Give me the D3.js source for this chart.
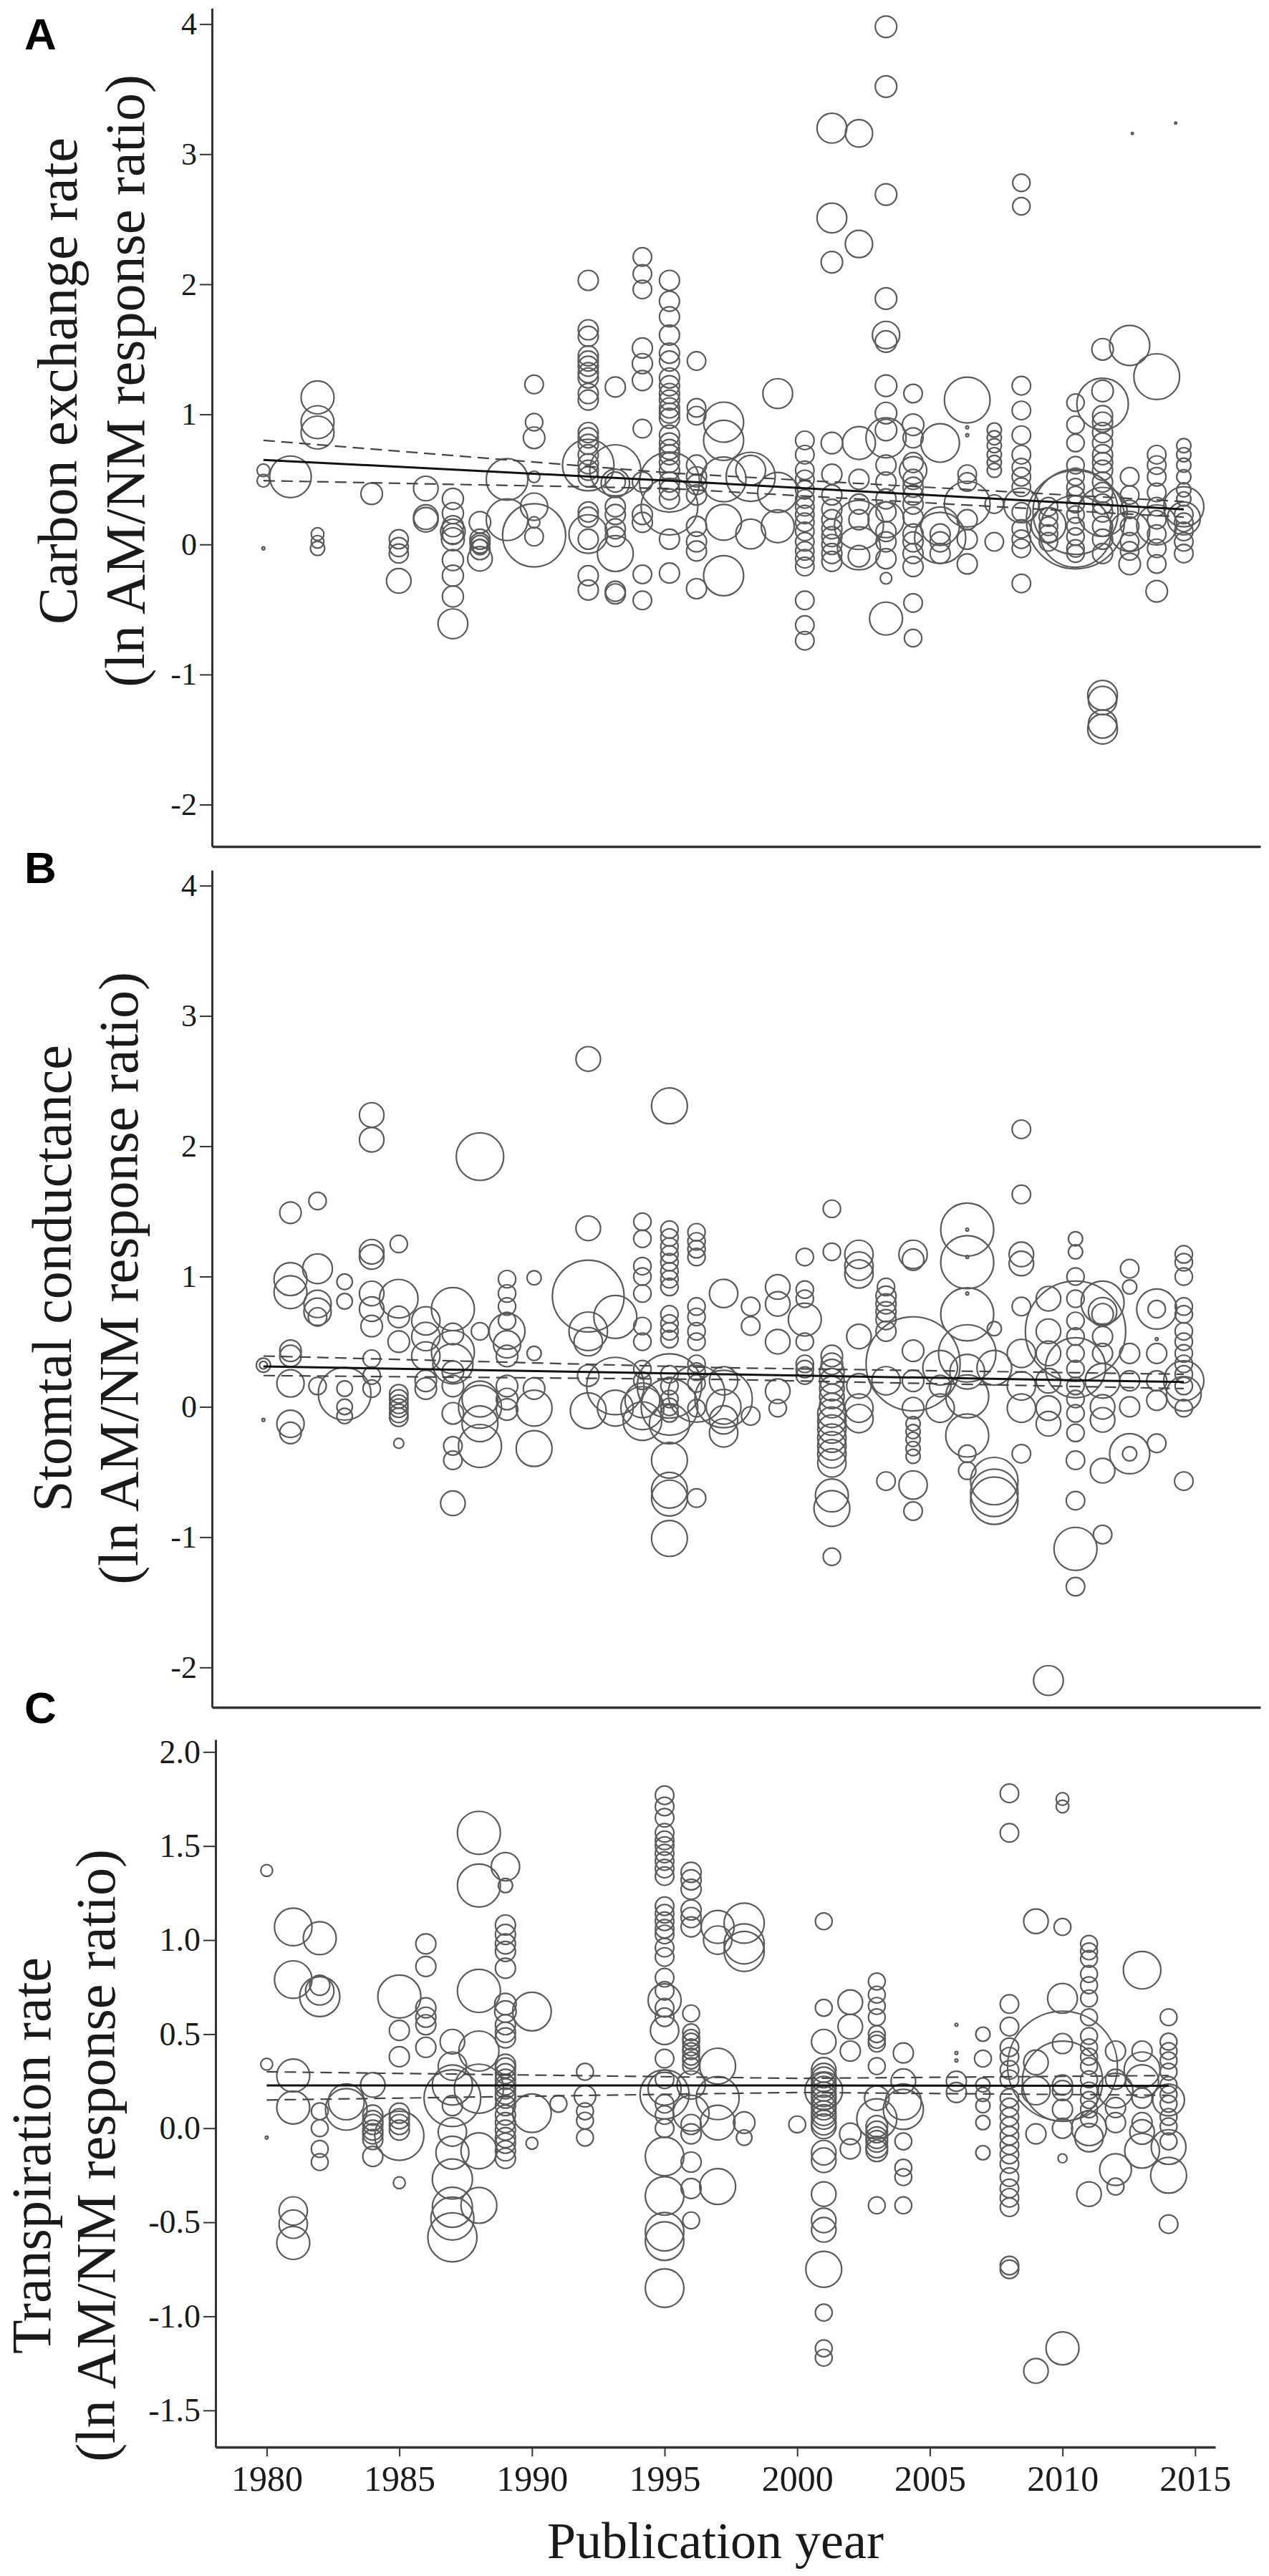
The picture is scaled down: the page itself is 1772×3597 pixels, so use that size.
<!DOCTYPE html>
<html>
<head>
<meta charset="utf-8">
<script src="https://cdn.jsdelivr.net/npm/d3@7"></script>
<style>
  body { margin: 0; background: #fff; }
  svg text { font-family: "Liberation Serif", "Times New Roman", serif; fill: #1a1a1a; }
  svg text.panel-label { font-family: "Liberation Sans", Arial, sans-serif; font-weight: bold; fill: #000; }
</style>
</head>
<body>
<div id="canvas"></div>
<script>
// ---- data: [publication year, ln response ratio, relative weight] ----
var carbonPts = [
  [1980,0.57,0.4],[1980,0.49,0.4],[1980,-0.03,0.02],
  [1981,0.52,4.3],
  [1982,1.13,2.7],[1982,0.94,2.7],[1982,0.86,2.7],[1982,0.08,0.4],[1982,0.02,0.4],[1982,-0.03,0.5],
  [1984,0.39,1.15],
  [1985,0.04,0.9],[1985,-0.02,0.9],[1985,-0.07,0.9],[1985,-0.28,1.5],
  [1986,0.43,1.5],[1986,0.21,1.5],[1986,0.19,1.5],
  [1987,0.35,1.1],[1987,0.24,1.1],[1987,0.14,1.1],[1987,0.08,1.1],[1987,0.04,1.3],[1987,0.1,1.5],[1987,-0.12,1.1],[1987,-0.24,1.1],[1987,-0.40,1.1],[1987,-0.61,2.2],
  [1988,0.17,1.15],[1988,0.04,1],[1988,0.01,1],[1988,0,0.8],[1988,-0.02,0.6],[1988,-0.04,1],[1988,-0.11,1.5],
  [1989,0.50,4.3],[1989,0.19,4.3],
  [1990,1.23,0.85],[1990,0.94,0.75],[1990,0.82,1.15],[1990,0.52,0.33],[1990,0.29,1.85],[1990,0.17,0.33],[1990,0.07,9.9],[1990,0.06,0.85],
  [1992,2.03,1],[1992,1.65,1],[1992,1.60,1],[1992,1.45,1],[1992,1.41,1],[1992,1.37,1],[1992,1.32,1],[1992,1.28,1],[1992,1.16,1],[1992,1.11,1],[1992,0.86,1],[1992,0.82,1],[1992,0.77,1],[1992,0.69,1],[1992,0.62,1],[1992,0.57,1],[1992,0.52,1],[1992,0.25,1],[1992,0.21,1],[1992,0.04,1],[1992,-0.24,1],[1992,-0.35,1],[1992,0.61,6.6],[1992,0.08,3.7],
  [1993,1.21,1],[1993,0.57,6.5],[1993,0.48,1],[1993,0.29,1],[1993,0.23,1],[1993,0.12,1],[1993,0.06,1],[1993,-0.07,3.2],[1993,-0.36,1],[1993,-0.38,1],[1993,0.47,2],
  [1994,2.21,0.85],[1994,2.08,0.85],[1994,1.96,0.85],[1994,1.51,1],[1994,1.39,1],[1994,1.26,1],[1994,0.89,0.85],[1994,0.48,1],[1994,0.23,1],[1994,0.17,1],[1994,-0.23,0.85],[1994,-0.43,0.85],
  [1995,2.03,1],[1995,1.87,1],[1995,1.75,1],[1995,1.61,1],[1995,1.47,1],[1995,1.41,1],[1995,1.28,1],[1995,1.22,1],[1995,1.16,1],[1995,1.11,1],[1995,1.05,1],[1995,1.01,1],[1995,0.97,1],[1995,0.84,1],[1995,0.78,1],[1995,0.73,1],[1995,0.69,1],[1995,0.63,1],[1995,0.57,1],[1995,0.48,1],[1995,0.42,1],[1995,0.35,1],[1995,0.04,1],[1995,-0.22,1],[1995,0.48,9],[1995,0.29,8],
  [1996,1.41,0.85],[1996,1.05,0.85],[1996,0.99,0.85],[1996,0.61,1],[1996,0.52,1],[1996,0.46,1],[1996,0.38,1],[1996,0.14,1],[1996,0.02,1],[1996,-0.05,1],[1996,-0.34,1],
  [1997,0.94,4],[1997,0.80,4],[1997,0.17,3.2],[1997,-0.24,4],[1997,0.5,5],
  [1998,0.57,2.2],[1998,0.52,6],[1998,0.08,2.2],
  [1999,1.16,2.2],[1999,0.14,2.7],[1999,0.40,4],
  [2000,0.80,0.85],[2000,0.69,0.85],[2000,0.57,0.85],[2000,0.50,0.85],[2000,0.42,0.85],[2000,0.35,0.85],[2000,0.29,0.85],[2000,0.23,0.85],[2000,0.17,0.85],[2000,0.10,0.85],[2000,0.02,0.85],[2000,-0.05,0.85],[2000,-0.11,0.85],[2000,-0.17,0.85],[2000,-0.43,0.85],[2000,-0.62,0.85],[2000,-0.74,0.85],
  [2001,3.20,2.2],[2001,2.51,2.2],[2001,2.17,1.15],[2001,0.78,1.15],[2001,0.54,1],[2001,0.38,1],[2001,0.27,1],[2001,0.19,1],[2001,0.12,1],[2001,0.06,1],[2001,0,1],[2001,-0.07,1],[2001,-0.13,1],
  [2002,3.16,1.85],[2002,2.31,1.85],[2002,0.78,2.7],[2002,0.50,1],[2002,0.31,1],[2002,0.19,1],[2002,-0.03,4.6],[2002,-0.09,1.15],[2002,0.15,6],
  [2003,3.98,1.15],[2003,3.52,1.15],[2003,2.69,1.15],[2003,1.89,1.15],[2003,1.61,1.85],[2003,1.56,1.15],[2003,1.22,1.15],[2003,1.01,1.15],[2003,0.88,1.15],[2003,0.82,4],[2003,0.61,1],[2003,0.48,1],[2003,0.35,1],[2003,0.25,1],[2003,0.19,3.2],[2003,0.10,1],[2003,0.02,1],[2003,-0.11,1],[2003,-0.26,0.33],[2003,-0.57,2.7],
  [2004,1.16,0.85],[2004,0.92,1.15],[2004,0.82,1],[2004,0.63,1],[2004,0.57,1.85],[2004,0.50,1],[2004,0.44,1],[2004,0.38,1],[2004,0.31,1],[2004,0.21,1],[2004,0.08,1],[2004,0.02,1],[2004,-0.07,1],[2004,-0.17,1],[2004,-0.45,0.85],[2004,-0.72,0.75],
  [2005,0.78,3.7],[2005,0.14,3.7],[2005,0.08,1],[2005,0.02,1],[2005,-0.07,1],[2005,0.05,6.5],
  [2006,1.11,5.2],[2006,0.90,0.02],[2006,0.84,0.02],[2006,0.54,0.85],[2006,0.48,0.85],[2006,0.31,5.2],[2006,0.19,1],[2006,0.04,1],[2006,-0.15,1],
  [2007,0.88,0.5],[2007,0.82,0.5],[2007,0.76,0.5],[2007,0.69,0.5],[2007,0.63,0.5],[2007,0.57,0.5],[2007,0.31,0.85],[2007,0.02,0.85],
  [2008,2.78,0.75],[2008,2.60,0.75],[2008,1.22,0.85],[2008,1.03,0.85],[2008,0.84,0.85],[2008,0.69,0.85],[2008,0.59,0.85],[2008,0.52,0.85],[2008,0.44,0.85],[2008,0.25,0.85],[2008,0.12,0.85],[2008,0.04,0.85],[2008,-0.03,0.85],[2008,-0.30,0.85],[2008,0.3,3],
  [2009,0.29,0.85],[2009,0.21,0.85],[2009,0.14,0.85],[2009,0.08,0.85],[2009,0.02,0.85],[2009,0.15,3],
  [2010,1.09,0.75],[2010,0.92,0.75],[2010,0.78,0.75],[2010,0.61,0.75],[2010,0.52,0.75],[2010,0.44,0.75],[2010,0.38,0.75],[2010,0.31,0.75],[2010,0.23,0.75],[2010,0.14,0.75],[2010,0.06,0.75],[2010,-0.03,0.75],[2010,-0.07,0.75],[2010,0.19,24],[2010,0.25,18],[2010,0.10,12.8],
  [2011,1.50,1.15],[2011,1.18,1.15],[2011,1.08,6.6],[2011,0.99,1],[2011,0.94,1],[2011,0.86,1],[2011,0.78,1],[2011,0.69,1],[2011,0.63,1],[2011,0.57,1],[2011,0.48,1],[2011,0.40,1],[2011,0.31,1],[2011,0.25,1],[2011,0.14,1],[2011,0.04,1],[2011,-0.07,1],[2011,-1.16,2.2],[2011,-1.20,2],[2011,-1.42,2.2],[2011,-1.38,2],[2011,0.25,6],
  [2012,1.53,4],[2012,0.52,0.85],[2012,0.38,0.85],[2012,0.27,0.85],[2012,0.14,0.85],[2012,0.02,0.85],[2012,-0.05,0.85],[2012,-0.15,1.15],[2012,0.1,4],[2012.1,3.16,0.01],
  [2013,1.29,5.2],[2013,0.69,0.85],[2013,0.61,0.85],[2013,0.52,0.85],[2013,0.40,0.85],[2013,0.29,0.85],[2013,0.19,0.85],[2013,0.08,0.85],[2013,-0.03,0.85],[2013,-0.15,0.85],[2013,-0.36,1.15],[2013,0.15,4],[2013.7,3.24,0.01],
  [2014,0.76,0.5],[2014,0.69,0.5],[2014,0.61,0.5],[2014,0.52,0.5],[2014,0.42,0.5],[2014,0.35,0.5],[2014,0.29,4],[2014,0.23,0.85],[2014,0.17,0.85],[2014,0.10,0.85],[2014,0.02,0.85],[2014,-0.07,0.85],[2014,0.2,2.7]
];

var stomatalPts = [
  [1980,0.32,0.5],[1980,0.32,0.15],[1980,-0.1,0.02],
  [1981,1.49,1.15],[1981,0.98,2.7],[1981,0.88,2.7],[1981,0.43,1.15],[1981,0.39,1.15],[1981,0.18,1.85],[1981,-0.13,1.85],[1981,-0.20,1.15],
  [1982,1.58,0.75],[1982,1.06,2.2],[1982,0.79,1.85],[1982,0.73,1.85],[1982,0.69,0.85],[1982,0.16,0.75],
  [1983,0.96,0.6],[1983,0.81,0.6],[1983,0.14,0.6],[1983,0,0.6],[1983,-0.07,0.6],[1983,0.10,6.9],
  [1984,2.24,1.5],[1984,2.05,1.5],[1984,1.19,1.5],[1984,1.15,1.5],[1984,0.87,1.5],[1984,0.75,1.5],[1984,0.62,1.15],[1984,0.37,0.75],[1984,0.24,0.75],[1984,0.14,0.75],
  [1985,1.25,0.75],[1985,0.83,3.7],[1985,0.69,1.15],[1985,0.50,1.15],[1985,0.10,0.85],[1985,0.06,0.85],[1985,0.02,0.85],[1985,-0.01,0.85],[1985,-0.05,0.85],[1985,-0.08,0.85],[1985,-0.28,0.25],
  [1986,0.66,2],[1986,0.54,2],[1986,0.39,2],[1986,0.14,1.15],[1986,0.20,1.15],
  [1987,0.75,4.6],[1987,0.56,1.15],[1987,0.33,4],[1987,0.27,1.15],[1987,0.16,1.15],[1987,-0.05,1.15],[1987,-0.30,0.85],[1987,-0.41,0.85],[1987,-0.74,1.5],[1987,0.42,4.6],
  [1988,1.92,5.6],[1988,0.58,0.75],[1988,0.06,3.2],[1988,0,4.6],[1988,-0.13,3.2],[1988,-0.30,4.6],
  [1989,0.98,0.75],[1989,0.87,0.75],[1989,0.77,0.75],[1989,0.66,0.75],[1989,0.48,1.85],[1989,0.39,1.15],[1989,0.16,1.15],[1989,0.06,1.15],[1989,-0.02,1.15],[1989,0.58,3.2],
  [1990,0.99,0.5],[1990,0.41,0.5],[1990,0.14,1.15],[1990,-0.01,3.2],[1990,-0.32,3.2],
  [1992,2.67,1.5],[1992,1.37,1.5],[1992,0.85,12.8],[1992,0.58,3.7],[1992,0.50,2],[1992,0.24,1.15],[1992,-0.03,3.2],
  [1993,0.69,4.6],[1993,0.16,8.2],[1993,-0.01,3.2],
  [1994,1.42,0.75],[1994,1.29,0.75],[1994,1.08,0.75],[1994,1.0,0.75],[1994,0.87,0.75],[1994,0.62,0.75],[1994,0.50,0.75],[1994,0.29,0.75],[1994,0.20,0.75],[1994,-0.01,4.6],[1994,-0.11,3.7],[1994,0.05,3],
  [1995,2.31,3.2],[1995,1.36,0.75],[1995,1.30,0.75],[1995,1.23,0.75],[1995,1.17,0.75],[1995,1.11,0.75],[1995,1.04,0.75],[1995,0.98,0.75],[1995,0.92,0.75],[1995,0.71,0.75],[1995,0.64,0.75],[1995,0.58,0.75],[1995,0.52,0.75],[1995,0.25,0.75],[1995,0.16,0.75],[1995,0.06,0.75],[1995,0,0.75],[1995,-0.05,0.75],[1995,-0.13,4],[1995,-0.41,3.2],[1995,-0.64,3.2],[1995,-0.70,3.2],[1995,-1.01,3.2],[1995,0.16,10.3],[1995,0,8],
  [1996,1.34,0.75],[1996,1.27,0.75],[1996,1.21,0.75],[1996,1.15,0.75],[1996,0.77,0.75],[1996,0.69,0.75],[1996,0.58,0.75],[1996,0.50,0.75],[1996,0.33,0.75],[1996,0.27,0.75],[1996,0.18,0.75],[1996,-0.01,0.75],[1996,-0.70,0.85],[1996,0.1,8],
  [1997,0.87,2],[1997,0.06,8.2],[1997,0.2,2],[1997,-0.1,2],[1997,-0.2,2],[1997,0,3],
  [1998,0.77,0.85],[1998,0.62,0.85],[1998,-0.07,0.85],
  [1999,0.92,1.5],[1999,0.79,1.5],[1999,0.50,1.5],[1999,0.12,1.5],[1999,-0.01,0.75],
  [2000,1.15,0.75],[2000,0.90,0.75],[2000,0.83,0.75],[2000,0.67,2.7],[2000,0.50,0.75],[2000,0.33,0.75],[2000,0.29,0.75],[2000,0.24,0.75],
  [2001,1.52,0.75],[2001,1.19,0.75],[2001,0.39,1.15],[2001,0.33,1.15],[2001,0.27,1.5],[2001,0.20,1.5],[2001,0.14,1.5],[2001,0.08,1.5],[2001,0.01,1.5],[2001,-0.05,2],[2001,-0.11,2],[2001,-0.17,2],[2001,-0.24,2],[2001,-0.30,2],[2001,-0.36,2],[2001,-0.43,2],[2001,-0.68,2.7],[2001,-0.78,3.2],[2001,-1.15,0.75],
  [2002,1.17,2],[2002,1.08,2],[2002,1.02,2],[2002,0.54,1.5],[2002,0.16,1.5],[2002,-0.01,2],[2002,-0.09,2],
  [2003,0.92,0.75],[2003,0.85,1],[2003,0.79,1],[2003,0.73,1],[2003,0.67,1],[2003,0.58,1],[2003,-0.57,0.85],[2003,0.2,2],
  [2004,1.17,2],[2004,1.13,1.15],[2004,0.43,1.15],[2004,0.20,1.15],[2004,-0.01,1.15],[2004,-0.13,0.5],[2004,-0.19,0.5],[2004,-0.25,0.5],[2004,-0.32,0.5],[2004,-0.38,0.5],[2004,-0.60,2],[2004,-0.80,0.85],[2004,0.33,22],
  [2005,0.16,1.15],[2005,-0.01,2],[2005,0.3,3],
  [2006,1.36,7],[2006,1.11,7],[2006,0.71,7],[2006,1.36,0.02],[2006,1.15,0.02],[2006,0.87,0.02],[2006,0.41,8.2],[2006,0.27,3],[2006,0.08,4.6],[2006,-0.22,4.6],[2006,-0.36,0.75],[2006,-0.49,0.75],
  [2007,0.60,0.5],[2007,-0.57,5.6],[2007,-0.72,5.6],[2007,-0.66,5.6],[2007,0.3,3],
  [2008,2.13,0.85],[2008,1.63,0.85],[2008,1.17,1.5],[2008,1.10,1.5],[2008,0.77,0.85],[2008,0.41,2],[2008,0.16,2],[2008,-0.01,2],[2008,-0.36,0.85],
  [2009,0.83,1.5],[2009,0.58,1.5],[2009,0.41,1.5],[2009,0.20,1.5],[2009,-0.01,1.5],[2009,-0.13,1.5],[2009,-2.10,2.2],
  [2010,1.29,0.5],[2010,1.19,0.5],[2010,1.0,0.75],[2010,0.83,0.75],[2010,0.66,0.75],[2010,0.54,0.75],[2010,0.41,0.75],[2010,0.29,0.75],[2010,0.16,0.75],[2010,0.06,0.75],[2010,-0.05,0.75],[2010,-0.2,0.75],[2010,-0.41,0.85],[2010,-0.72,0.85],[2010,-1.09,4.6],[2010,-1.38,0.85],[2010,0.58,25],[2010,0.3,9],
  [2011,0.73,2],[2011,0.71,1.15],[2011,0.54,1],[2011,0.41,1],[2011,0,1.5],[2011,-0.1,1.5],[2011,-0.49,1.5],[2011,-0.98,0.85],[2011,0.2,3],[2011,0.8,4.6],
  [2012,1.06,0.85],[2012,0.92,0.5],[2012,-0.36,4],[2012,-0.36,0.5],[2012,0.41,1],[2012,0.2,1],[2012,0,1],
  [2013,0.75,4],[2013,0.75,0.75],[2013,0.52,0.02],[2013,0.41,1],[2013,0.2,1],[2013,0.05,1],[2013,-0.28,0.85],
  [2014,1.17,0.75],[2014,1.11,0.75],[2014,1.0,0.75],[2014,0.77,0.75],[2014,0.71,0.75],[2014,0.58,0.75],[2014,0.50,0.75],[2014,0.41,0.75],[2014,0.33,0.75],[2014,0.25,0.75],[2014,0.16,0.75],[2014,-0.01,0.75],[2014,-0.57,0.85],[2014,0.2,4],[2014,0.1,3]
];

var transpPts = [
  [1980,1.37,0.35],[1980,0.34,0.35],[1980,-0.05,0.02],
  [1981,1.07,3.5],[1981,0.79,3.5],[1981,0.28,2.7],[1981,0.11,2.7],[1981,-0.44,2],[1981,-0.51,2],[1981,-0.61,2.7],
  [1982,1.01,2.7],[1982,0.76,1],[1982,0.73,2],[1982,0.70,4],[1982,0.09,0.7],[1982,0,0.7],[1982,-0.11,0.7],[1982,-0.18,0.7],
  [1983,0.14,3.2],[1983,0.10,4.3],
  [1984,0.23,1.5],[1984,0.07,1],[1984,0.04,1],[1984,0.02,1],[1984,-0.01,1],[1984,-0.03,1],[1984,-0.06,1],[1984,-0.15,1],
  [1985,0.70,4.6],[1985,0.52,1],[1985,0.38,1],[1985,0.08,1],[1985,0.05,1],[1985,0.02,1],[1985,-0.01,1],[1985,-0.04,6],[1985,-0.29,0.35],
  [1986,0.98,1],[1986,0.86,1],[1986,0.64,1],[1986,0.59,1],[1986,0.55,1],[1986,0.43,1],
  [1987,0.46,1.5],[1987,0.33,2],[1987,0.23,4],[1987,0.16,8],[1987,0.12,1],[1987,-0.02,2],[1987,-0.13,2.7],[1987,-0.27,4],[1987,-0.42,4],[1987,-0.48,4.6],[1987,-0.58,6],
  [1988,1.57,4.6],[1988,1.29,4.6],[1988,0.73,4.6],[1988,0.41,4],[1988,0.21,6],[1988,-0.12,3.2],[1988,-0.41,3.2],
  [1989,1.39,2],[1989,1.29,0.5],[1989,1.08,1],[1989,1.03,1],[1989,0.98,1],[1989,0.94,1],[1989,0.85,1],[1989,0.66,1.15],[1989,0.62,1.15],[1989,0.55,1],[1989,0.51,1],[1989,0.48,1],[1989,0.34,1],[1989,0.32,1],[1989,0.29,1],[1989,0.26,1],[1989,0.23,1],[1989,0.21,1],[1989,0.18,1],[1989,0.16,1],[1989,0.12,1],[1989,0.07,1],[1989,0.03,1],[1989,-0.01,1],[1989,-0.05,1],[1989,-0.08,1],[1989,-0.12,1],[1989,-0.16,1],
  [1990,0.62,3.7],[1990,0.08,3.7],[1990,-0.08,0.35],
  [1991,0.13,0.7],
  [1992,0.30,0.7],[1992,0.17,1.15],[1992,0.09,0.7],[1992,0.04,0.7],[1992,-0.05,0.7],
  [1995,1.77,0.85],[1995,1.71,0.85],[1995,1.65,0.85],[1995,1.57,0.85],[1995,1.53,0.85],[1995,1.50,0.85],[1995,1.46,0.85],[1995,1.42,0.85],[1995,1.38,0.85],[1995,1.34,0.85],[1995,1.18,0.85],[1995,1.14,0.85],[1995,1.10,0.85],[1995,1.06,0.85],[1995,1.03,0.85],[1995,0.96,0.85],[1995,0.91,0.85],[1995,0.80,0.85],[1995,0.73,0.85],[1995,0.68,2.7],[1995,0.64,0.85],[1995,0.59,0.85],[1995,0.52,2],[1995,0.37,0.85],[1995,0.26,0.85],[1995,0.21,2.7],[1995,0.18,6],[1995,0.13,0.85],[1995,0.07,0.85],[1995,0,0.85],[1995,-0.15,3.7],[1995,-0.36,3.7],[1995,-0.55,3.7],[1995,-0.60,3.7],[1995,-0.85,3.7],
  [1996,1.36,1],[1996,1.32,1],[1996,1.27,1],[1996,1.16,1],[1996,1.12,1],[1996,1.07,1],[1996,0.61,0.7],[1996,0.51,0.7],[1996,0.48,0.7],[1996,0.46,0.7],[1996,0.43,0.7],[1996,0.41,0.7],[1996,0.38,0.7],[1996,0.36,0.7],[1996,0.33,0.7],[1996,0.23,2],[1996,0.08,3.2],[1996,0.02,1],[1996,-0.03,1],[1996,-0.18,1],[1996,-0.32,1],[1996,-0.49,0.7],
  [1997,1.07,2.7],[1997,1.0,2],[1997,0.33,3.2],[1997,0.16,4.6],[1997,0.03,3],[1997,-0.31,3.2],
  [1998,1.09,4],[1998,0.98,4],[1998,0.94,4],[1998,0.03,1.15],[1998,-0.05,0.6],
  [2000,0.02,0.7],
  [2001,1.10,0.7],[2001,0.64,0.7],[2001,0.46,1.5],[2001,0.31,1.5],[2001,0.28,1.5],[2001,0.26,1.5],[2001,0.23,1.5],[2001,0.21,1.5],[2001,0.18,1.5],[2001,0.16,1.5],[2001,0.13,1.5],[2001,0.11,1.5],[2001,0.08,1.5],[2001,0.06,1.5],[2001,0.03,1.5],[2001,0.01,1.5],[2001,-0.13,1.5],[2001,-0.17,1.5],[2001,-0.35,1.5],[2001,-0.49,1.5],[2001,-0.54,1.5],[2001,-0.75,3.2],[2001,-0.98,0.7],[2001,-1.17,0.7],[2001,-1.22,0.7],[2001,0.2,3.5],
  [2002,0.67,1.5],[2002,0.54,1.5],[2002,0.41,1],[2002,-0.03,1.15],[2002,-0.11,1],
  [2003,0.78,0.7],[2003,0.71,0.7],[2003,0.65,0.7],[2003,0.59,0.7],[2003,0.50,0.7],[2003,0.47,0.7],[2003,0.45,0.7],[2003,0.33,0.7],[2003,0.16,1.5],[2003,0.01,1.15],[2003,-0.02,1.15],[2003,-0.05,1.15],[2003,-0.07,1.15],[2003,-0.10,1.15],[2003,-0.12,1.15],[2003,-0.41,0.7],[2003,0.05,4],
  [2004,0.40,1],[2004,0.25,1.5],[2004,0.14,3.2],[2004,-0.07,0.7],[2004,-0.21,0.7],[2004,-0.26,0.7],[2004,-0.41,0.7],[2004,0.1,4],
  [2006,0.25,1],[2006,0.19,1],[2006,0.55,0.02],[2006,0.40,0.02],[2006,0.36,0.02],
  [2007,0.50,0.5],[2007,0.37,0.7],[2007,0.23,0.5],[2007,0.18,0.5],[2007,0.12,0.5],[2007,0.03,0.5],[2007,-0.13,0.5],
  [2008,1.78,0.85],[2008,1.57,0.85],[2008,0.66,0.85],[2008,0.54,0.85],[2008,0.43,0.85],[2008,0.38,0.85],[2008,0.31,0.85],[2008,0.26,0.85],[2008,0.16,0.85],[2008,0.11,0.85],[2008,0.06,0.85],[2008,0.01,0.85],[2008,-0.04,0.85],[2008,-0.09,0.85],[2008,-0.14,0.85],[2008,-0.19,0.85],[2008,-0.26,0.85],[2008,-0.32,0.85],[2008,-0.37,0.85],[2008,-0.42,0.85],[2008,-0.73,0.85],[2008,-0.75,0.85],
  [2009,1.10,1.5],[2009,-0.03,1],[2009,-1.29,1.5],[2009,0.2,2],[2009,0.35,1.5],
  [2010,1.75,0.4],[2010,1.71,0.4],[2010,1.07,0.7],[2010,0.69,2.2],[2010,0.33,30],[2010,0.25,16],[2010,0.23,1],[2010,0.20,1],[2010,0.10,1],[2010,0,1],[2010,0.45,1],[2010,-0.16,0.2],[2010,-1.17,2.7],
  [2011,0.98,0.7],[2011,0.94,0.7],[2011,0.90,0.7],[2011,0.82,0.7],[2011,0.76,0.7],[2011,0.69,0.7],[2011,0.59,0.7],[2011,0.49,0.7],[2011,0.43,0.7],[2011,0.38,0.7],[2011,0.33,0.7],[2011,0.26,0.7],[2011,0.20,0.7],[2011,0.15,0.7],[2011,0.10,0.7],[2011,0.05,0.7],[2011,-0.05,2],[2011,-0.35,1.5],[2011,0,3],
  [2012,0.41,1],[2012,0.26,1],[2012,0.11,1],[2012,0.03,1],[2012,-0.22,2.5],[2012,-0.31,0.7],[2012,0.2,3],
  [2013,0.84,3.5],[2013,0.41,1],[2013,0.31,3.2],[2013,0.16,1],[2013,0.03,1],[2013,-0.02,1.5],[2013,-0.12,3],[2013,0.25,2.7],
  [2014,0.59,0.7],[2014,0.46,0.7],[2014,0.41,0.7],[2014,0.36,0.7],[2014,0.30,0.7],[2014,0.23,0.7],[2014,0.18,0.7],[2014,0.13,0.7],[2014,0.06,0.7],[2014,0.01,0.7],[2014,-0.07,0.7],[2014,-0.25,3.2],[2014,-0.51,0.85],[2014,0.15,2.5],[2014,-0.1,3]
];

// meta-regression fit and 95% band, read at three years per panel
var fitYearsA = [1980, 1995, 2014];
var fitMidA   = [0.65, 0.49, 0.27];
var fitLoA    = [0.49, 0.43, 0.21];
var fitHiA    = [0.80, 0.55, 0.33];

var fitYearsB = [1980, 1997, 2014];
var fitMidB   = [0.31, 0.25, 0.19];
var fitLoB    = [0.24, 0.21, 0.14];
var fitHiB    = [0.39, 0.30, 0.25];

var fitYearsC = [1980, 2000, 2014];
var fitMidC   = [0.227, 0.227, 0.225];
var fitLoC    = [0.15, 0.19, 0.175];
var fitHiC    = [0.30, 0.265, 0.28];

var ticksAB = [4, 3, 2, 1, 0, -1, -2];
var ticksC  = [2.0, 1.5, 1.0, 0.5, 0.0, -0.5, -1.0, -1.5];
var yearTicks = [1980, 1985, 1990, 1995, 2000, 2005, 2010, 2015];

var titlesA = ["Carbon exchange rate", "(ln AM/NM response ratio)"];
var titlesB = ["Stomtal conductance", "(ln AM/NM response ratio)"];
var titlesC = ["Transpiration rate", "(ln AM/NM response ratio)"];

// ---- drawing ----
var W = 1772, H = 3597;
var SERIF = '"Liberation Serif", "Times New Roman", serif';
var svg = d3.select("#canvas").append("svg").attr("width", W).attr("height", H);

var rScale = d3.scaleSqrt().domain([0, 25]).range([0, 70]);

function drawPanel(opt) {
  var x = d3.scaleLinear().domain(opt.xDomain).range(opt.xRange);
  var y = d3.scaleLinear().domain(opt.yDomain).range(opt.yRange);
  var g = svg.append("g");

  // circles
  g.append("g").selectAll("circle")
    .data(opt.pts)
    .join("circle")
    .attr("cx", d => x(d[0]))
    .attr("cy", d => y(d[1]))
    .attr("r", d => Math.max(1, rScale(d[2])))
    .attr("fill", "none")
    .attr("stroke", "#5a5a5a")
    .attr("stroke-width", 2.2);

  // fit lines
  var line = d3.line().x(d => x(d[0])).y(d => y(d[1]));
  var mk = function(vals) { return opt.fitYears.map((yr, i) => [yr, vals[i]]); };
  [opt.fitLo, opt.fitHi].forEach(function(vals) {
    g.append("path").datum(mk(vals)).attr("d", line)
      .attr("fill", "none").attr("stroke", "#444").attr("stroke-width", 2.2)
      .attr("stroke-dasharray", "16,9");
  });
  g.append("path").datum(mk(opt.fitMid)).attr("d", line)
    .attr("fill", "none").attr("stroke", "#111").attr("stroke-width", 3);

  // y axis
  var ya = g.append("g").attr("transform", "translate(" + opt.xRange[0] + ",0)")
    .call(d3.axisLeft(y).tickValues(opt.yTicks).tickSize(17).tickSizeOuter(0).tickPadding(4)
      .tickFormat(opt.yFmt));
  ya.attr("font-family", null);
  ya.select(".domain").attr("stroke", "#333").attr("stroke-width", 3);
  ya.selectAll(".tick line").attr("stroke", "#333").attr("stroke-width", 2);
  ya.selectAll(".tick text").style("font-family", SERIF).style("font-size", opt.yTickFont + "px").style("fill", "#1a1a1a");

  // x axis
  var xa = g.append("g").attr("transform", "translate(0," + opt.yRange[1] + ")")
    .call(d3.axisBottom(x).tickValues(opt.xTicks).tickSize(13).tickSizeOuter(0).tickPadding(12)
      .tickFormat(d3.format("d")));
  xa.attr("font-family", null);
  xa.select(".domain").attr("stroke", "#333").attr("stroke-width", 3.5);
  xa.selectAll(".tick line").attr("stroke", "#333").attr("stroke-width", 2);
  xa.selectAll(".tick text").style("font-family", SERIF).style("font-size", "50px").style("fill", "#1a1a1a");

  // y title (two lines)
  opt.titles.forEach(function(t, i) {
    svg.append("text")
      .attr("transform", "translate(" + opt.titleX[i] + "," + opt.titleY + ") rotate(-90)")
      .attr("text-anchor", "middle")
      .style("font-family", SERIF)
      .style("font-size", "78px")
      .text(t);
  });

  // panel letter
  svg.append("text").attr("class", "panel-label")
    .attr("x", 34).attr("y", opt.labelY)
    .style("font-size", "62px")
    .text(opt.label);
}

drawPanel({
  pts: carbonPts, label: "A", labelY: 69,
  xDomain: [1978.1, 2016.83], xRange: [296, 1760],
  yDomain: [4.122, -2.322], yRange: [11.5, 1182],
  yTicks: ticksAB, yFmt: d => String(d), yTickFont: 44, xTicks: [],
  fitYears: fitYearsA, fitMid: fitMidA, fitLo: fitLoA, fitHi: fitHiA,
  titles: titlesA, titleX: [107, 201], titleY: 532
});

drawPanel({
  pts: stomatalPts, label: "B", labelY: 1233,
  xDomain: [1978.1, 2016.83], xRange: [296, 1760],
  yDomain: [4.119, -2.306], yRange: [1215, 2384],
  yTicks: ticksAB, yFmt: d => String(d), yTickFont: 44, xTicks: [],
  fitYears: fitYearsB, fitMid: fitMidB, fitLo: fitLoB, fitHi: fitHiB,
  titles: titlesB, titleX: [99, 192], titleY: 1785
});

drawPanel({
  pts: transpPts, label: "C", labelY: 2406,
  xDomain: [1978.072, 2015.76], xRange: [301, 1697],
  yDomain: [2.066, -1.695], yRange: [2429, 3417],
  yTicks: ticksC, yFmt: d => d.toFixed(1), yTickFont: 46, xTicks: yearTicks,
  fitYears: fitYearsC, fitMid: fitMidC, fitLo: fitLoC, fitHi: fitHiC,
  titles: titlesC, titleX: [70, 160], titleY: 3010
});

svg.append("text")
  .attr("x", 999).attr("y", 3572)
  .attr("text-anchor", "middle")
  .style("font-family", SERIF)
  .style("font-size", "72px")
  .text("Publication year");
</script>
</body>
</html>
